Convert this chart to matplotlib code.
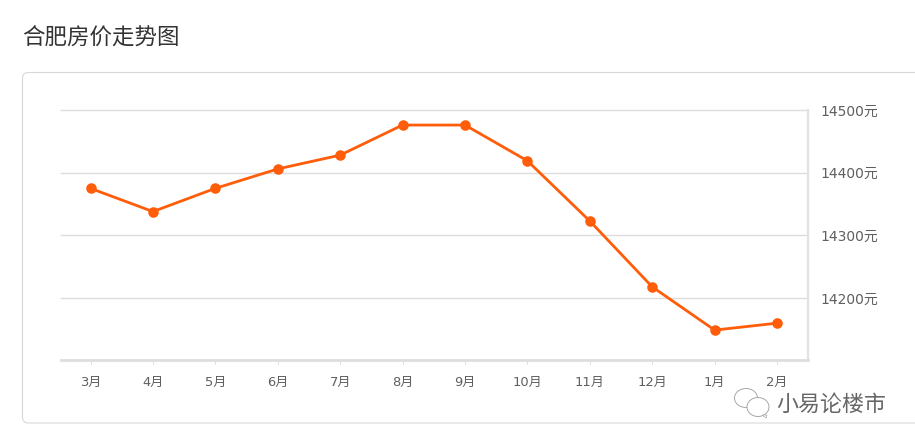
import matplotlib
matplotlib.use('Agg')
import matplotlib.pyplot as plt
from matplotlib.patches import FancyBboxPatch, Ellipse, Polygon

plt.rcParams['font.family'] = ['Noto Sans CJK SC', 'DejaVu Sans']
NUM_FONT = ['DejaVu Sans', 'Noto Sans CJK SC']

months = ['3月','4月','5月','6月','7月','8月','9月','10月','11月','12月','1月','2月']
prices = [14375,14338,14375,14406,14428,14476,14476,14419,14323,14218,14149,14160]
yticks = [14200,14300,14400,14500]
ylabels = ['14200元','14300元','14400元','14500元']
title = '合肥房价走势图'
watermark = '小易论楼市'

W, H = 915, 445
fig = plt.figure(figsize=(W/100, H/100), dpi=100, facecolor='white')

bg = fig.add_axes([0, 0, 1, 1], zorder=0)
bg.set_xlim(0, W); bg.set_ylim(H, 0); bg.axis('off')
bg.add_patch(FancyBboxPatch((22.5, 72.5), 1000, 350.5,
             boxstyle='round,pad=0,rounding_size=6', fc='white', ec='#d8d8d8', lw=0.8))
bg.text(22, 38, title, fontsize=16.2, color='#333333', va='center', ha='left')

ax = fig.add_axes([61/W, 1-360/H, (808-61)/W, (360-110)/H], zorder=1)
ax.patch.set_alpha(0)
ax.set_xlim(-0.473, 11.497)
ax.set_ylim(14500-250/0.627, 14500)
ax.yaxis.tick_right()
ax.set_yticks(yticks, ylabels, family=NUM_FONT)
ax.set_xticks(range(len(months)), months, family=NUM_FONT)
ax.grid(axis='y', color='#dcdcdc', lw=1.0, zorder=1)
for g in ax.get_ygridlines():
    g.set_clip_on(False)
for s in ['top','left']:
    ax.spines[s].set_visible(False)
ax.spines['right'].set_color('#e2e2e2'); ax.spines['right'].set_linewidth(1.6)
ax.spines['bottom'].set_color('#dedede'); ax.spines['bottom'].set_linewidth(2.0)
ax.tick_params(axis='y', length=0, pad=9, labelsize=10, labelcolor='#5f5f5f')
ax.tick_params(axis='x', length=3.2, width=0.8, color='#dcdcdc', pad=8, labelsize=9.4, labelcolor='#5f5f5f')
ax.plot(range(len(prices)), prices, color='#ff5d0a', lw=2.0, marker='o', ms=7.6, mew=0, zorder=5, clip_on=False)

# watermark
bg2 = fig.add_axes([0, 0, 1, 1], zorder=2)
bg2.set_xlim(0, W); bg2.set_ylim(H, 0); bg2.axis('off')
for cx, cy, w, h in [(746, 398, 23, 19), (758, 407, 22, 19)]:
    bg2.add_patch(Ellipse((cx, cy), w, h, fc='white', ec='#a8a8a8', lw=0.7))
bg2.add_patch(Polygon([(762,415),(767,415),(766,418)], fc='white', ec='#a8a8a8', lw=0.5))
bg2.text(776, 405, watermark, fontsize=15.8, color='#666666', va='center', ha='left')

fig.savefig('out.png', dpi=100, facecolor='white')
